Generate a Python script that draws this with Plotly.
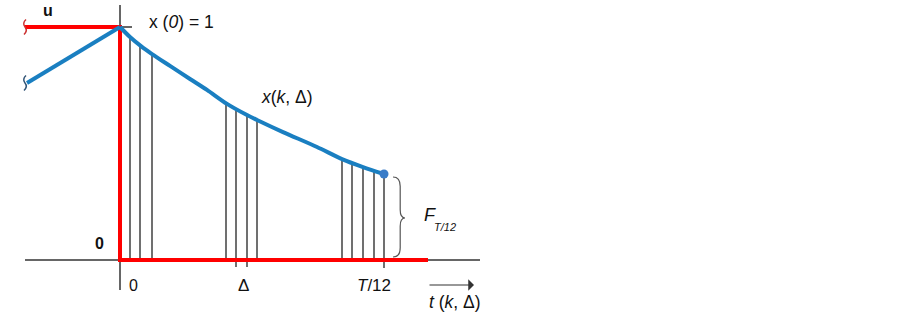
import plotly.graph_objects as go

# ---- data (time offset from origin, value normalised so x(0)=1) ----
left_t = [-93, 0]
left_x = [0.760, 1.0]

curve_t = [0, 10, 21, 32, 50, 70, 87, 107, 127, 137, 163, 197, 222, 243, 264]
curve_x = [1.0, 0.957, 0.918, 0.884, 0.833, 0.777, 0.730, 0.670, 0.622, 0.601, 0.549, 0.485, 0.433, 0.399, 0.369]

sample_t = [10, 20, 32, 106, 116, 127, 137, 222, 232, 243, 254, 264]
sample_top = [0.957, 0.921, 0.884, 0.672, 0.645, 0.622, 0.601, 0.433, 0.415, 0.399, 0.384, 0.369]
sample_bottom = [0, 0, 0, 0, -0.030, -0.030, 0, 0, 0, 0, 0, -0.034]

u_t = [-95, 0, 0, 308]
u_x = [1.0, 1.0, 0.0, 0.0]

axis_h_t = [-95, 360]
axis_v_x = [-0.129, 1.094]

end_t = [264]
end_x = [0.369]

# pixel helpers for layout placement
X0, Y0, SY = 120, 260, 233.0
def dx(px): return px - X0
def dy(py): return (Y0 - py) / SY

fig = go.Figure()
FONT = "Liberation Sans, Arial, sans-serif"

# black axes
fig.add_trace(go.Scatter(x=axis_h_t, y=[0, 0], mode="lines", line=dict(color="#333333", width=1.5), hoverinfo="skip"))
fig.add_trace(go.Scatter(x=[0, 0], y=axis_v_x, mode="lines", line=dict(color="#333333", width=1.5), hoverinfo="skip"))
fig.add_trace(go.Scatter(x=[-8, 12], y=[1.0, 1.0], mode="lines", line=dict(color="#333333", width=1.5), hoverinfo="skip"))

# sample vertical lines
st, sy = [], []
for t, a, b in zip(sample_t, sample_top, sample_bottom):
    st += [t, t, None]
    sy += [a, b, None]
fig.add_trace(go.Scatter(x=st, y=sy, mode="lines", line=dict(color="#404040", width=1.5), hoverinfo="skip"))

# red control u
fig.add_trace(go.Scatter(x=u_t, y=u_x, mode="lines", line=dict(color="#ff0000", width=4), hoverinfo="skip"))

# blue state
fig.add_trace(go.Scatter(x=left_t, y=left_x, mode="lines", line=dict(color="#1a7fc1", width=4), hoverinfo="skip"))
fig.add_trace(go.Scatter(x=curve_t, y=curve_x, mode="lines",
                         line=dict(color="#1a7fc1", width=4, shape="spline", smoothing=0.8), hoverinfo="skip"))
fig.add_trace(go.Scatter(x=end_t, y=end_x, mode="markers", marker=dict(color="#3a7cc8", size=9), hoverinfo="skip"))

shapes = []
# brace
bx = dx(397)
top, mid, bot = dy(177), dy(218), dy(257)
w = 4
path = (f"M {bx-w},{top} Q {bx+w*0.8},{top} {bx+w*0.8},{top-0.04} "
        f"L {bx+w*0.8},{mid+0.035} Q {bx+w*0.8},{mid} {bx+w*2},{mid} "
        f"Q {bx+w*0.8},{mid} {bx+w*0.8},{mid-0.035} "
        f"L {bx+w*0.8},{bot+0.04} Q {bx+w*0.8},{bot} {bx-w},{bot}")
shapes.append(dict(type="path", path=path, xref="x", yref="y", line=dict(color="#555555", width=1.2)))
# squiggles (broken-axis marks)
for py, col in [(27, "#cc3333"), (83, "#335577")]:
    x = dx(25); yc = dy(py); h = 0.016
    p = (f"M {x+1},{yc+2*h} Q {x-3},{yc+h} {x},{yc} Q {x+3},{yc-h} {x-1},{yc-2*h}")
    shapes.append(dict(type="path", path=p, xref="x", yref="y", line=dict(color=col, width=1.5)))

ann = []
def A(text, px, py, size=17, xanchor="center", yanchor="middle", **kw):
    ann.append(dict(text=text, x=dx(px), y=dy(py), xref="x", yref="y", showarrow=False,
                    xanchor=xanchor, yanchor=yanchor, font=dict(family=FONT, size=size, color="#111111"), **kw))

A("<b>u</b>", 48, 0, 16, yanchor="top")
A("x (<i>0</i>) = 1", 147, 22, 17.5, xanchor="left")
A("<i>x</i>(<i>k</i>, Δ)", 259, 97, 17.5, xanchor="left")
A("<i>F</i>", 422, 215, 18, xanchor="left")
A("<i>T/12</i>", 432, 227, 11, xanchor="left")
A("<b>0</b>", 99, 243, 16)
A("0", 133, 285, 16)
A("Δ", 243, 285, 17)
A("<i>T</i>/12", 374, 285, 17)
A("<i>t</i> (<i>k</i>, Δ)", 427, 302, 17.5, xanchor="left")
# arrow
ann.append(dict(x=dx(474), y=dy(285), ax=dx(428), ay=dy(285), xref="x", yref="y", axref="x", ayref="y",
                text="", showarrow=True, arrowhead=1, arrowsize=1.6, arrowwidth=1.2, arrowcolor="#333333"))

fig.update_layout(
    width=903, height=320, margin=dict(l=0, r=0, t=0, b=0),
    plot_bgcolor="white", paper_bgcolor="white", showlegend=False,
    xaxis=dict(range=[dx(0), dx(903)], visible=False, fixedrange=True),
    yaxis=dict(range=[dy(320), dy(0)], visible=False, fixedrange=True),
    shapes=shapes, annotations=ann,
)
fig.write_html("out.html", config={"displayModeBar": False},
               post_script="document.body.style.margin='0';")
